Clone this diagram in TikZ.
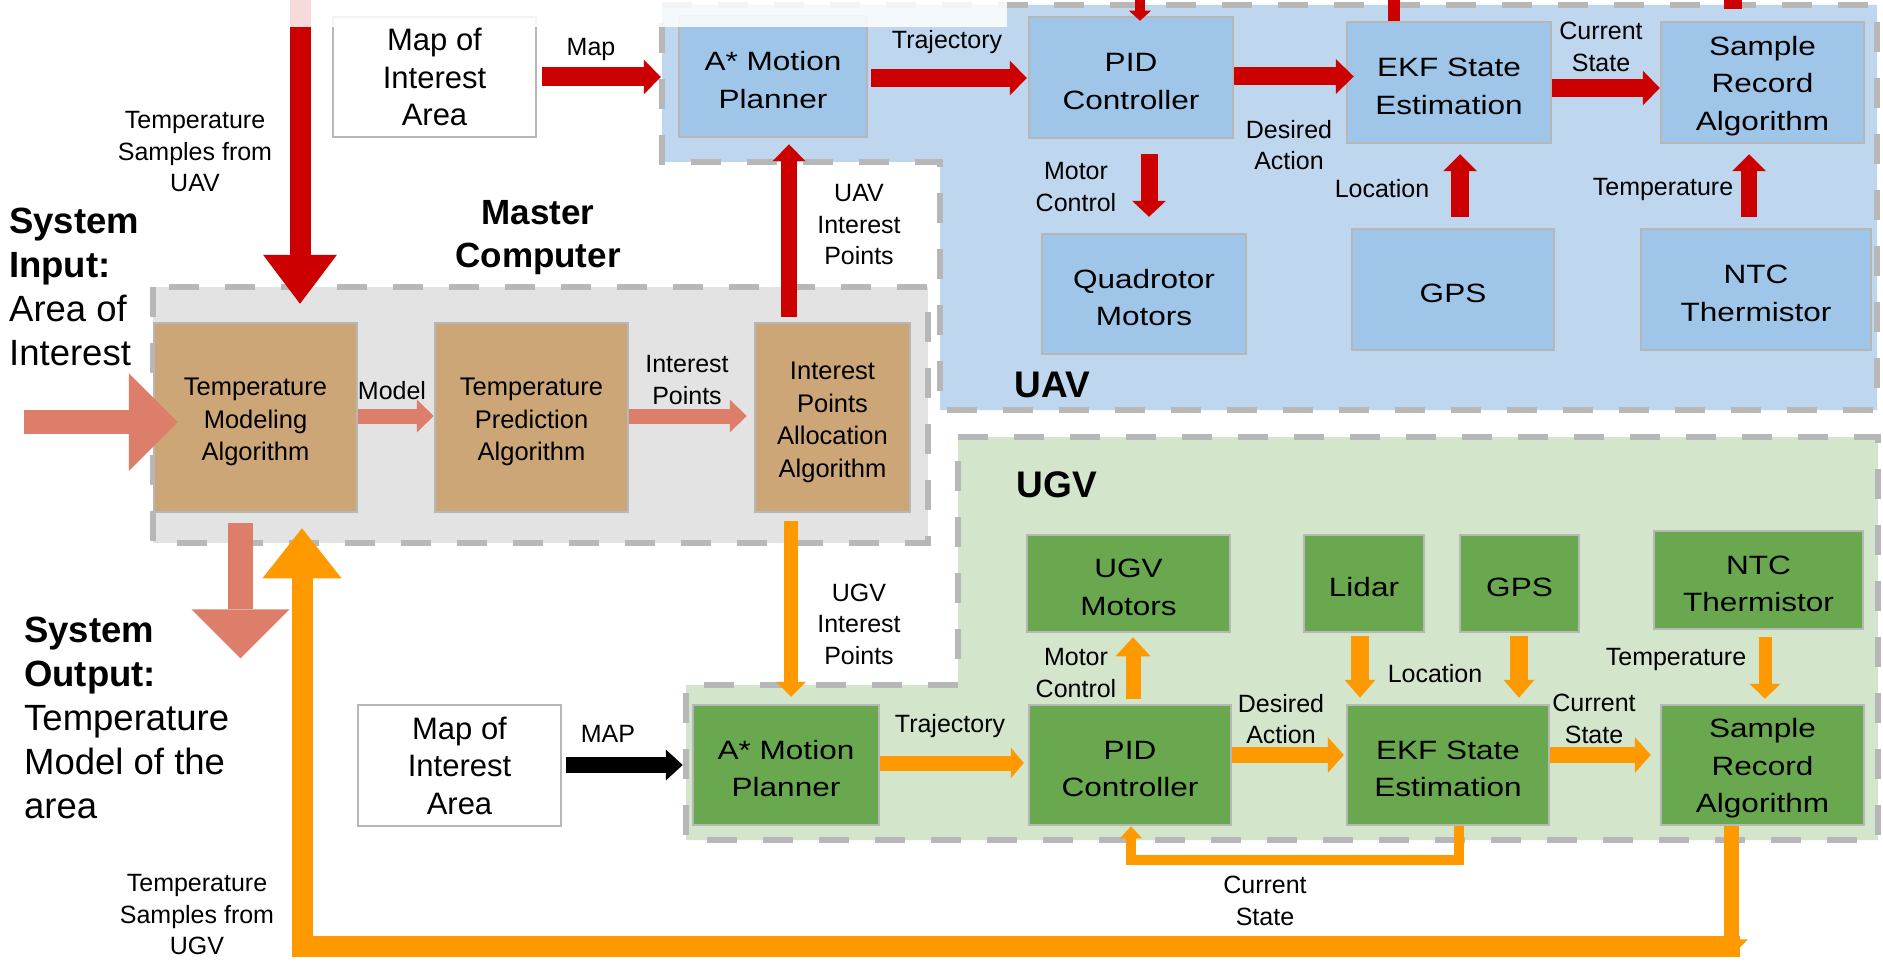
\documentclass[tikz,border=0pt]{standalone}
\usepackage{fontspec}
\setmainfont{Liberation Sans}
\newfontfamily\boxfont[FakeStretch=1.19]{Liberation Sans}
\usetikzlibrary{arrows.meta,calc}

\definecolor{uavbg}{HTML}{BFD7EE}
\definecolor{uavbox}{HTML}{9FC5E8}
\definecolor{ugvbg}{HTML}{D3E5CB}
\definecolor{ugvbox}{HTML}{6AA84F}
\definecolor{mcbg}{HTML}{E3E3E3}
\definecolor{mcbox}{HTML}{CCA677}
\definecolor{edgegray}{HTML}{B7B7B7}
\definecolor{arrred}{HTML}{CC0000}
\definecolor{arrsalmon}{HTML}{DD7E6B}
\definecolor{arrorange}{HTML}{FF9900}

% struts that centre block text on its cap height
\newcommand\bst{\rule{0pt}{26pt}}
\newcommand\mst{\rule{0pt}{27pt}}

\begin{document}
\begin{tikzpicture}[x=1pt,y=-1pt,
  region/.style={draw=edgegray, line width=6pt, dash pattern=on 30pt off 26pt},
  blk/.style={draw=edgegray, line width=2.5pt, inner sep=0pt, align=center},
  uavblk/.style={blk, fill=uavbox, font=\boxfont\fontsize{26.5}{37.5}\selectfont},
  ugvblk/.style={blk, fill=ugvbox, font=\boxfont\fontsize{26.5}{37.5}\selectfont},
  mcblk/.style={blk, fill=mcbox, font=\fontsize{25.5}{32.5}\selectfont},
  mapblk/.style={blk, fill=white, line width=2pt, font=\fontsize{31}{37.5}\selectfont},
  lbl/.style={inner sep=0pt, align=center, font=\fontsize{25}{31.5}\selectfont},
  grouptitle/.style={inner sep=0pt, font=\bfseries\fontsize{37}{44}\selectfont},
  mctitle/.style={inner sep=0pt, align=center, font=\bfseries\fontsize{35}{43}\selectfont},
  systext/.style={inner sep=0pt, align=left, anchor=west, font=\fontsize{36.5}{44}\selectfont},
  barrow/.style n args={4}{draw=#1, line width=#2pt, line join=miter,
    -{Triangle[width=#3pt,length=#4pt,line width=0pt]}},
]
% canvas
\useasboundingbox (0,0) rectangle (1883,963);
\fill[white] (0,0) rectangle (1883,963);

% ---- group regions ----
\draw[region, fill=uavbg] (662,5) -- (1877,5) -- (1877,410) -- (940,410)
  -- (940,162) -- (662,162) -- cycle;
\draw[region, fill=mcbg] (153,287) rectangle (928,543);
\draw[region, fill=ugvbg] (958,437) -- (1878,437) -- (1878,840) -- (686,840)
  -- (686,685) -- (958,685) -- cycle;

% ---- UAV blocks ----
\node[mapblk, minimum width=203pt, minimum height=120pt] (umap) at (434.5,77) {Map of\\Interest\\Area};
\node[uavblk, minimum width=188pt, minimum height=121pt] (uastar) at (773,76.5) {\bst A* Motion\\Planner};
\node[uavblk, minimum width=204pt, minimum height=121pt] (upid) at (1131,77.5) {\bst PID\\Controller};
\node[uavblk, minimum width=204pt, minimum height=121pt] (uekf) at (1449,82.5) {\bst EKF State\\Estimation};
\node[uavblk, minimum width=203pt, minimum height=121pt] (usrec) at (1762.5,82.5) {\bst Sample\\Record\\Algorithm};
\node[uavblk, minimum width=204pt, minimum height=120pt] (uquad) at (1144,294) {\bst Quadrotor\\Motors};
\node[uavblk, minimum width=202pt, minimum height=121pt] (ugps) at (1453,289.5) {\bst GPS};
\node[uavblk, minimum width=230pt, minimum height=121pt] (untc) at (1756,289.5) {\bst NTC\\Thermistor};

% ---- master computer blocks ----
\node[mcblk, minimum width=203pt, minimum height=189pt] (tmod) at (255.5,417.5) {\mst Temperature\\Modeling\\Algorithm};
\node[mcblk, minimum width=193pt, minimum height=189pt] (tpred) at (531.5,417.5) {\mst Temperature\\Prediction\\Algorithm};
\node[mcblk, minimum width=155pt, minimum height=189pt] (ipa) at (832.5,417.5) {\mst Interest\\Points\\Allocation\\Algorithm};

% ---- UGV blocks ----
\node[ugvblk, minimum width=203pt, minimum height=97pt] (gmotor) at (1128.5,583.5) {\bst UGV\\Motors};
\node[ugvblk, minimum width=120pt, minimum height=97pt] (glidar) at (1364,583.5) {\bst Lidar};
\node[ugvblk, minimum width=119pt, minimum height=97pt] (ggps) at (1519.5,583.5) {\bst GPS};
\node[ugvblk, minimum width=209pt, minimum height=98pt] (gntc) at (1758.5,580) {\bst NTC\\Thermistor};
\node[mapblk, minimum width=203pt, minimum height=121pt] (gmap) at (459.5,765.5) {Map of\\Interest\\Area};
\node[ugvblk, minimum width=186pt, minimum height=120pt] (gastar) at (786,765) {\bst A* Motion\\Planner};
\node[ugvblk, minimum width=202pt, minimum height=120pt] (gpid) at (1130,765) {\bst PID\\Controller};
\node[ugvblk, minimum width=202pt, minimum height=120pt] (gekf) at (1448,765) {\bst EKF State\\Estimation};
\node[ugvblk, minimum width=203pt, minimum height=120pt] (gsrec) at (1762.5,765) {\bst Sample\\Record\\Algorithm};

% ---- free ends of connectors ----
\coordinate (topA) at (300,0);
\coordinate (topB) at (1140,0);
\coordinate (topC) at (1394,0);
\coordinate (topD) at (1733,0);
\coordinate (inL) at (24,422);
\coordinate (outTip) at ($(tmod.south)+(-15,145)$);
\coordinate (ugvOut) at ($(gsrec.south)+(-31.5,130)$);
\coordinate (bandR) at ($(gsrec.south)+(-22.5,120)$);

% ---- UAV connectors (red) ----
\draw[barrow={arrred}{21}{74}{49}] (topA) -- ($(tmod.north)+(44.5,-18)$);
\draw[barrow={arrred}{19}{35}{17}] ($(umap.east)+(5,0)$) -- ($(umap.east -| uastar.west)+(-17,0)$);
\draw[barrow={arrred}{18}{35}{17}] ($(uastar.east)+(3,1.5)$) -- ($(uastar.east -| upid.west)+(-1,1.5)$);
\draw[barrow={arrred}{18}{35}{18}] ($(upid.east)+(0,-1)$) -- ($(upid.east -| uekf.west)+(8,-1)$);
\draw[barrow={arrred}{18}{35}{17}] ($(uekf.east)+(0,5.5)$) -- ($(uekf.east -| usrec.west)+(0,5.5)$);
\draw[barrow={arrred}{17}{34}{16}] ($(upid.south)+(18,15)$) -- ($(uquad.north)+(5,-16)$);
\draw[barrow={arrred}{18}{34}{17}] ($(ugps.north)+(7,-11)$) -- ($(uekf.south)+(11,10)$);
\draw[barrow={arrred}{16}{34}{17}] ($(untc.north)+(-7,-11)$) -- ($(usrec.south)+(-13.5,10)$);
\draw[barrow={arrred}{16}{33}{17}] ($(ipa.north)+(-43.5,-5)$) -- ($(uastar.south)+(16,6)$);
\draw[barrow={arrred}{10}{22}{10}] (topB) -- ($(upid.north)+(9,5)$);
\draw[draw=arrred, line width=12pt] (topC) -- (topC |- uekf.north);
\draw[draw=arrred, line width=18pt] (topD) -- ($(usrec.north)+(-29.5,-12)$);

% ---- master computer connectors (salmon) ----
\draw[barrow={arrsalmon}{24}{98}{49}] (inL) -- ($(tmod.west)+(25,4.5)$);
\draw[barrow={arrsalmon}{15}{33}{17}] ($(tmod.east)+(0,-1.5)$) -- ($(tmod.east -| tpred.west)+(0,-1.5)$);
\draw[barrow={arrsalmon}{15}{33}{17}] ($(tpred.east)+(0,-1.5)$) -- ($(tpred.east -| ipa.west)+(-7,-1.5)$);
\draw[barrow={arrsalmon}{25}{98}{49}] ($(tmod.south)+(-15,10)$) -- (outTip);

% ---- UGV connectors (orange) ----
\draw[barrow={arrorange}{14}{30}{15}] ($(ipa.south)+(-41.5,8)$) -- ($(gastar.north)+(5,-7)$);
\draw[barrow={black}{16}{31}{17}] ($(gmap.east)+(4,-0.5)$) -- ($(gmap.east -| gastar.west)+(-9,-0.5)$);
\draw[barrow={arrorange}{15}{31}{13}] ($(gastar.east)+(0,-2)$) -- ($(gastar.east -| gpid.west)+(-4,-2)$);
\draw[barrow={arrorange}{15}{35}{19}] ($(gpid.north)+(3,-5)$) -- ($(gmotor.south)+(4.5,4)$);
\draw[barrow={arrorange}{16}{36}{16}] ($(gpid.east)+(0,-10)$) -- ($(gpid.east -| gekf.west)+(-2,-10)$);
\draw[barrow={arrorange}{18}{31}{18}] ($(glidar.south)+(-4,3)$) -- ($(gekf.north)+(-88,-6)$);
\draw[barrow={arrorange}{18}{31}{18}] ($(ggps.south)+(-0.5,3)$) -- ($(gekf.north)+(71,-6)$);
\draw[barrow={arrorange}{16}{36}{16}] ($(gekf.east)+(0,-10)$) -- ($(gekf.east -| gsrec.west)+(-9,-10)$);
\draw[barrow={arrorange}{13}{31}{15}] ($(gntc.south)+(6.5,7)$) -- ($(gsrec.north)+(2.5,-5)$);
\draw[barrow={arrorange}{10}{22}{12}] ($(gekf.south)+(11,0)$) -- ++(0,34) -| ($(gpid.south)+(1,0)$);
\draw[barrow={arrorange}{21}{79}{50}] (bandR) -| ($(tmod.south)+(46.5,15)$);
\draw[barrow={arrorange}{15}{34}{17}] ($(gsrec.south)+(-31.5,0)$) -- (ugvOut);

% ---- connector labels ----
\node[lbl] (lmap) at (591,49) {Map};
\node[lbl] (ltraj1) at (947,42) {Trajectory};
\node[lbl] (ldes1) at (1289,145) {Desired\\Action};
\node[lbl] (lmot1) at (1076,187) {Motor\\Control};
\node[lbl] (lcur1) at (1601,47) {Current\\State};
\node[lbl] (lloc1) at (1382,189) {Location};
\node[lbl] (ltemp1) at (1663,189) {Temperature};
\node[lbl] (luip) at (859,225) {UAV\\Interest\\Points};
\node[lbl] (lsuav) at (195,152) {Temperature\\Samples from\\UAV};
\node[lbl] (lmodel) at (392,391) {Model};
\node[lbl] (lip) at (687,380) {Interest\\Points};
\node[lbl] (lgip) at (859,624) {UGV\\Interest\\Points};
\node[lbl] (lmap2) at (608,734) {MAP};
\node[lbl] (ltraj2) at (950,726) {Trajectory};
\node[lbl] (lmot2) at (1076,673) {Motor\\Control};
\node[lbl] (ldes2) at (1281,719) {Desired\\Action};
\node[lbl] (lloc2) at (1435,674) {Location};
\node[lbl] (lcur2) at (1594,719) {Current\\State};
\node[lbl] (ltemp2) at (1676,659) {Temperature};
\node[lbl] (lcur3) at (1265,901) {Current\\State};
\node[lbl] (lsugv) at (197,915) {Temperature\\Samples from\\UGV};

% ---- group titles ----
\node[grouptitle] (luav) at (1052,385) {UAV};
\node[grouptitle] (lugv) at (1057,485) {UGV};
\node[mctitle] (lmc) at (538,238) {Master\\Computer};
\node[systext] (lin) at (9,287) {\textbf{System}\\\textbf{Input:}\\Area of\\Interest};
\node[systext] (lout) at (24,718) {\textbf{System}\\\textbf{Output:}\\Temperature\\Model of the\\area};

% faded strip along the upper edge
\fill[white, opacity=0.86] (200,0) rectangle (1007,27);
\end{tikzpicture}
\end{document}
